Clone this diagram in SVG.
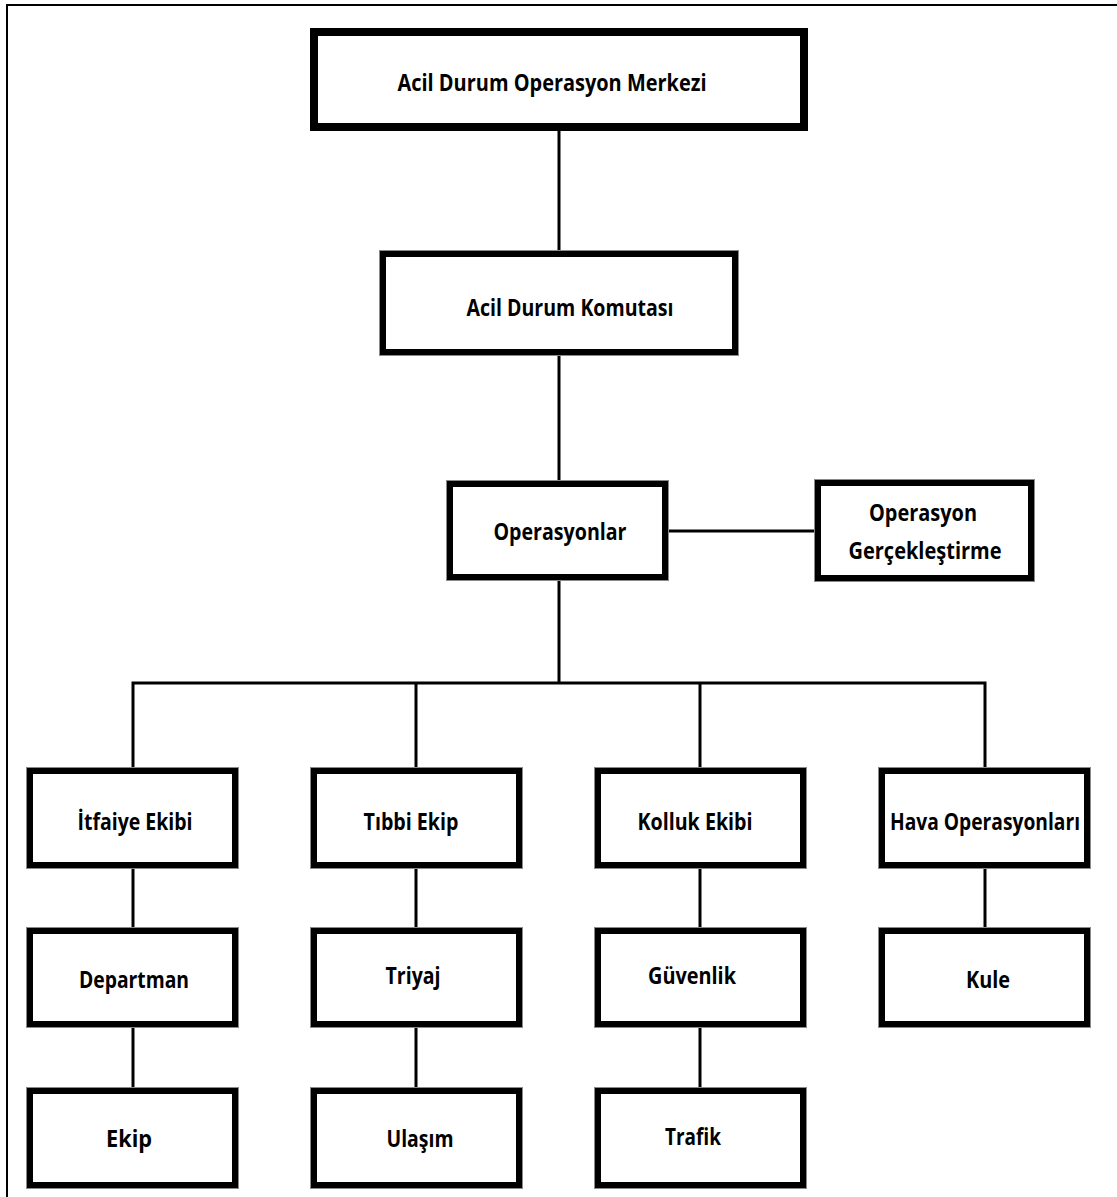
<svg xmlns="http://www.w3.org/2000/svg" width="1117" height="1197" viewBox="0 0 1117 1197">
  <style>
    .frame { fill: none; stroke: #000; stroke-width: 2; }
    .halo { fill: none; stroke: #8a8a8a; stroke-width: 8; }
    .box { fill: #fff; stroke: #000; stroke-width: 6; }
    .box-top { fill: #fff; stroke: #000; stroke-width: 8; }
    .link { fill: none; stroke: #000; stroke-width: 3; }
    .label { font-family: "Open Sans", "Noto Sans", "DejaVu Sans", sans-serif; font-weight: 700; font-size: 24px; fill: #000; text-anchor: middle; }
  </style>

  <rect width="1117" height="1197" fill="#fff"/>

  <!-- page frame: top and left edges only -->
  <path class="frame" d="M7,1197 V5 H1117"/>

  <!-- connectors -->
  <g id="connectors">
    <path class="link" d="M559,128 V253"/>
    <path class="link" d="M559,354 V483"/>
    <path class="link" d="M667,531 H816"/>
    <path class="link" d="M559,578 V683"/>
    <path class="link" d="M133,770 V683 H985 V770"/>
    <path class="link" d="M416,683 V770"/>
    <path class="link" d="M700,683 V770"/>
    <path class="link" d="M133,866 V930 M133,1025 V1090"/>
    <path class="link" d="M416,866 V930 M416,1025 V1090"/>
    <path class="link" d="M700,866 V930 M700,1025 V1090"/>
    <path class="link" d="M985,866 V930"/>
  </g>

  <g id="merkez">
    <rect class="halo" x="314" y="32" width="490" height="95"/>
    <rect class="box-top" x="314" y="32" width="490" height="95"/>
    <text class="label" x="552" y="91" textLength="309" lengthAdjust="spacingAndGlyphs">Acil Durum Operasyon Merkezi</text>
  </g>

  <g id="komuta">
    <rect class="halo" x="383" y="254" width="352" height="98"/>
    <rect class="box" x="383" y="254" width="352" height="98"/>
    <text class="label" x="570" y="316" textLength="207" lengthAdjust="spacingAndGlyphs">Acil Durum Komutası</text>
  </g>

  <g id="operasyonlar">
    <rect class="halo" x="450" y="484" width="215" height="93"/>
    <rect class="box" x="450" y="484" width="215" height="93"/>
    <text class="label" x="560" y="540" textLength="133" lengthAdjust="spacingAndGlyphs">Operasyonlar</text>
  </g>

  <g id="gerceklestirme">
    <rect class="halo" x="818" y="483" width="213" height="95"/>
    <rect class="box" x="818" y="483" width="213" height="95"/>
    <text class="label" x="923" y="521" textLength="108" lengthAdjust="spacingAndGlyphs">Operasyon</text>
    <text class="label" x="925" y="559" textLength="153" lengthAdjust="spacingAndGlyphs">Gerçekleştirme</text>
  </g>

  <!-- first row of teams -->
  <g id="itfaiye">
    <rect class="halo" x="30" y="771" width="205" height="94"/>
    <rect class="box" x="30" y="771" width="205" height="94"/>
    <text class="label" x="135" y="830" textLength="115" lengthAdjust="spacingAndGlyphs">İtfaiye Ekibi</text>
  </g>
  <g id="tibbi">
    <rect class="halo" x="314" y="771" width="205" height="94"/>
    <rect class="box" x="314" y="771" width="205" height="94"/>
    <text class="label" x="411" y="830" textLength="95" lengthAdjust="spacingAndGlyphs">Tıbbi Ekip</text>
  </g>
  <g id="kolluk">
    <rect class="halo" x="598" y="771" width="205" height="94"/>
    <rect class="box" x="598" y="771" width="205" height="94"/>
    <text class="label" x="695" y="830" textLength="115" lengthAdjust="spacingAndGlyphs">Kolluk Ekibi</text>
  </g>
  <g id="hava">
    <rect class="halo" x="882" y="771" width="205" height="94"/>
    <rect class="box" x="882" y="771" width="205" height="94"/>
    <text class="label" x="985" y="830" textLength="190" lengthAdjust="spacingAndGlyphs">Hava Operasyonları</text>
  </g>

  <!-- second row -->
  <g id="departman">
    <rect class="halo" x="30" y="931" width="205" height="93"/>
    <rect class="box" x="30" y="931" width="205" height="93"/>
    <text class="label" x="134" y="988" textLength="110" lengthAdjust="spacingAndGlyphs">Departman</text>
  </g>
  <g id="triyaj">
    <rect class="halo" x="314" y="931" width="205" height="93"/>
    <rect class="box" x="314" y="931" width="205" height="93"/>
    <text class="label" x="413" y="984" textLength="55" lengthAdjust="spacingAndGlyphs">Triyaj</text>
  </g>
  <g id="guvenlik">
    <rect class="halo" x="598" y="931" width="205" height="93"/>
    <rect class="box" x="598" y="931" width="205" height="93"/>
    <text class="label" x="692" y="984" textLength="88" lengthAdjust="spacingAndGlyphs">Güvenlik</text>
  </g>
  <g id="kule">
    <rect class="halo" x="882" y="931" width="205" height="93"/>
    <rect class="box" x="882" y="931" width="205" height="93"/>
    <text class="label" x="988" y="988" textLength="44" lengthAdjust="spacingAndGlyphs">Kule</text>
  </g>

  <!-- third row -->
  <g id="ekip">
    <rect class="halo" x="30" y="1091" width="205" height="94"/>
    <rect class="box" x="30" y="1091" width="205" height="94"/>
    <text class="label" x="129" y="1147" textLength="46" lengthAdjust="spacingAndGlyphs">Ekip</text>
  </g>
  <g id="ulasim">
    <rect class="halo" x="314" y="1091" width="205" height="94"/>
    <rect class="box" x="314" y="1091" width="205" height="94"/>
    <text class="label" x="420" y="1147" textLength="67" lengthAdjust="spacingAndGlyphs">Ulaşım</text>
  </g>
  <g id="trafik">
    <rect class="halo" x="598" y="1091" width="205" height="94"/>
    <rect class="box" x="598" y="1091" width="205" height="94"/>
    <text class="label" x="693" y="1145" textLength="56" lengthAdjust="spacingAndGlyphs">Trafik</text>
  </g>
</svg>
